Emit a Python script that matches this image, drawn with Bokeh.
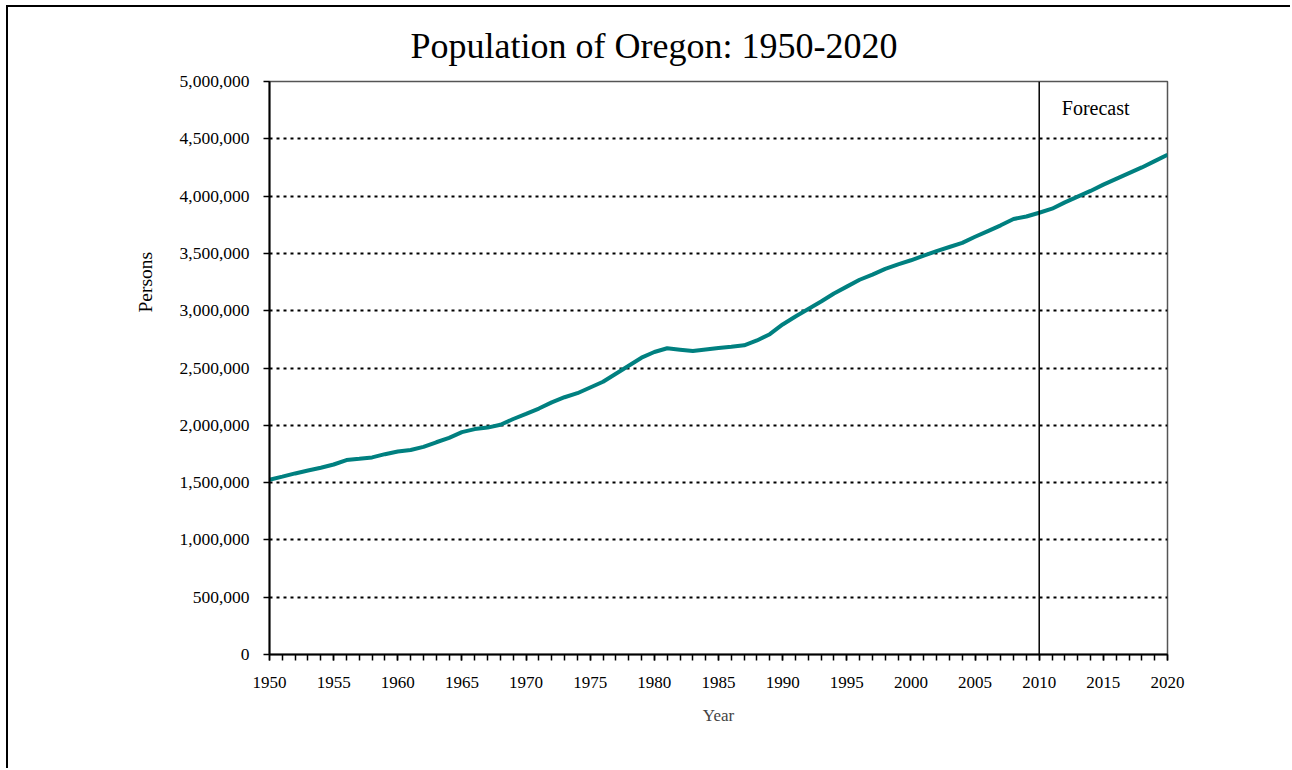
from bokeh.plotting import figure
from bokeh.models import Range1d, NumeralTickFormatter, FixedTicker, Span, Label, Title
from bokeh.embed import file_html
from bokeh.resources import INLINE

# ---- data ----
years = list(range(1950, 2021))
population = [
    1525000, 1552000, 1580000, 1605000, 1630000, 1658000, 1697000, 1708000, 1720000, 1748000,  # 1950-59
    1772000, 1785000, 1812000, 1852000, 1890000, 1940000, 1967000, 1980000, 2005000, 2055000,  # 1960-69
    2100000, 2146000, 2200000, 2245000, 2280000, 2330000, 2380000, 2450000, 2520000, 2590000,  # 1970-79
    2640000, 2672000, 2660000, 2648000, 2662000, 2675000, 2685000, 2698000, 2740000, 2795000,  # 1980-89
    2880000, 2950000, 3015000, 3080000, 3150000, 3210000, 3270000, 3315000, 3365000, 3405000,  # 1990-99
    3440000, 3480000, 3520000, 3556000, 3592000, 3645000, 3695000, 3745000, 3800000, 3822000,  # 2000-09
    3855000, 3890000, 3945000, 3995000, 4045000, 4100000, 4150000, 4200000, 4250000, 4305000,  # 2010-19
    4360000,                                                                                   # 2020
]
x_tick_years = list(range(1950, 2021, 5))
y_tick_values = [0, 500000, 1000000, 1500000, 2000000, 2500000, 3000000, 3500000, 4000000, 4500000, 5000000]
forecast_start = 2010
forecast_label = "Forecast"
forecast_label_pos = (2014.4, 4770000)
title_text = "Population of Oregon: 1950-2020"
y_label = "Persons"
x_label = "Year"

FONT = "Liberation Serif"

p = figure(width=1284, height=763, output_backend="svg", toolbar_location=None,
           x_range=Range1d(1950, 2020), y_range=Range1d(0, 5000000),
           min_border_left=261, min_border_right=125, min_border_top=74, min_border_bottom=116,
           title=None)
p.styles = {"border-left": "2px solid black", "border-top": "2px solid black",
            "margin-left": "6px", "margin-top": "5px"}

# title
t = Title(text=title_text, align="left", offset=141, text_font=FONT,
          text_font_size="36px", text_font_style="normal", text_color="black", standoff=32)
p.add_layout(t, "above")

# y label as a left-side title (so it can be offset vertically)
yl = Title(text=y_label, align="left", offset=342, text_font=FONT,
           text_font_size="19.5px", text_font_style="normal", text_color="black", standoff=41)
p.add_layout(yl, "left")

p.background_fill_color = "white"
p.border_fill_color = "white"
p.outline_line_color = "#555555"
p.outline_line_width = 1.5

# axes
xa = p.xaxis[0]
xa.ticker = FixedTicker(ticks=x_tick_years, minor_ticks=years)
xa.axis_label = x_label
xa.axis_label_text_font = FONT
xa.axis_label_text_font_size = "17px"
xa.axis_label_text_font_style = "normal"
xa.axis_label_standoff = 15
xa.major_label_text_font = FONT
xa.major_label_text_font_size = "17px"
xa.major_label_standoff = 16
xa.major_tick_in = 0
xa.major_tick_out = 6
xa.minor_tick_in = 0
xa.minor_tick_out = 6
xa.axis_line_width = 2
xa.major_tick_line_width = 1.5
xa.minor_tick_line_width = 1.5

ya = p.yaxis[0]
ya.ticker = FixedTicker(ticks=y_tick_values)
ya.formatter = NumeralTickFormatter(format="0,0")
ya.major_label_text_font = FONT
ya.major_label_text_font_size = "17.5px"
ya.major_label_standoff = 14
ya.major_tick_in = 0
ya.major_tick_out = 6
ya.minor_tick_in = 0
ya.minor_tick_out = 0
ya.axis_line_width = 2
ya.major_tick_line_width = 1.5

for ax in (xa, ya):
    ax.major_label_text_color = "black"
    ax.axis_line_color = "black"
    ax.major_tick_line_color = "black"
    ax.minor_tick_line_color = "black"

p.xgrid.grid_line_color = None
p.ygrid.grid_line_color = "black"
p.ygrid.grid_line_dash = "3 4"
p.ygrid.grid_line_width = 2

# forecast divider
p.add_layout(Span(location=forecast_start, dimension="height", line_color="black", line_width=1.5))
p.add_layout(Label(x=forecast_label_pos[0], y=forecast_label_pos[1], text=forecast_label,
                   text_align="center", text_baseline="middle", text_font=FONT,
                   text_font_size="20px", text_color="black"))

p.line(years, population, line_color="#008080", line_width=4)

open("out.html", "w").write(file_html(p, INLINE))
